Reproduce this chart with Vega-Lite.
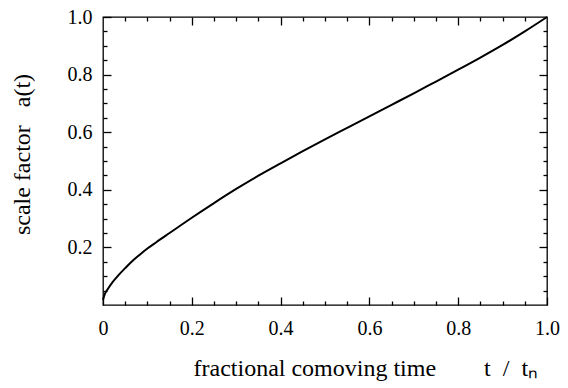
{
  "$schema": "https://vega.github.io/schema/vega-lite/v6.json",
  "width": 444,
  "height": 288,
  "autosize": "none",
  "padding": {"left": 103, "top": 17, "right": 21, "bottom": 83},
  "background": "white",
  "config": {
    "view": {"stroke": "black", "strokeWidth": 1.3},
    "font": "Liberation Serif",
    "axis": {
      "domain": false,
      "grid": false,
      "tickColor": "black",
      "tickWidth": 1.3,
      "labelColor": "black",
      "labelFont": "Liberation Serif",
      "labelFontSize": 20,
      "labelOverlap": false,
      "labelFlush": false,
      "labelBound": false,
      "titleColor": "black",
      "titleFont": "Liberation Serif",
      "titleFontSize": 24,
      "titleFontWeight": "normal"
    }
  },
  "data": {
    "values": [
      {"t": 0, "a": 0.018},
      {"t": 0.004, "a": 0.038},
      {"t": 0.012, "a": 0.058},
      {"t": 0.022, "a": 0.08},
      {"t": 0.035, "a": 0.104},
      {"t": 0.05, "a": 0.128},
      {"t": 0.065, "a": 0.151},
      {"t": 0.08, "a": 0.171},
      {"t": 0.1, "a": 0.196},
      {"t": 0.12, "a": 0.218},
      {"t": 0.15, "a": 0.25},
      {"t": 0.2, "a": 0.303},
      {"t": 0.25, "a": 0.354},
      {"t": 0.3, "a": 0.403},
      {"t": 0.35, "a": 0.449},
      {"t": 0.4, "a": 0.492},
      {"t": 0.45, "a": 0.534},
      {"t": 0.5, "a": 0.575},
      {"t": 0.55, "a": 0.615},
      {"t": 0.6, "a": 0.655},
      {"t": 0.65, "a": 0.695},
      {"t": 0.7, "a": 0.735},
      {"t": 0.75, "a": 0.776},
      {"t": 0.8, "a": 0.817},
      {"t": 0.85, "a": 0.859},
      {"t": 0.9, "a": 0.903},
      {"t": 0.95, "a": 0.95},
      {"t": 1.0, "a": 1.0}
    ]
  },
  "layer": [
    {
      "mark": {"type": "line", "color": "black", "strokeWidth": 2, "interpolate": "monotone"},
      "encoding": {
        "x": {
          "field": "t", "type": "quantitative",
          "scale": {"domain": [0, 1], "nice": false, "zero": false},
          "axis": {
            "orient": "bottom",
            "values": [0, 0.2, 0.4, 0.6, 0.8, 1.0],
            "offset": -8,
            "tickSize": 8,
            "labelExpr": "datum.value==0 ? '0' : format(datum.value,'.1f')",
            "labelFont": "Liberation Serif",
            "labelFontSize": 20,
            "labelPadding": 13,
            "labelBaseline": "top",
            "title": "fractional comoving time\u2003\u2003t\u2002/\u2002tₙ",
            "titleFont": "Liberation Serif",
            "titleAlign": "left",
            "titleBaseline": "alphabetic",
            "titleX": 90,
            "titleY": 78
          }
        },
        "y": {
          "field": "a", "type": "quantitative",
          "scale": {"domain": [0, 1], "nice": false, "zero": false},
          "axis": {
            "orient": "left",
            "values": [0.2, 0.4, 0.6, 0.8, 1.0],
            "offset": -8,
            "tickSize": 8,
            "labelExpr": "format(datum.value,'.1f')",
            "labelFont": "Liberation Serif",
            "labelFontSize": 20,
            "labelPadding": 11,
            "title": "scale factor\u2002 a(t)",
            "titleFont": "Liberation Serif",
            "titleAngle": -90,
            "titleAlign": "center",
            "titleBaseline": "alphabetic",
            "titleX": -82,
            "titleY": 137
          }
        }
      }
    },
    {
      "mark": {"type": "line", "opacity": 0},
      "encoding": {
        "x": {
          "field": "t", "type": "quantitative",
          "scale": {"domain": [0, 1], "nice": false, "zero": false},
          "axis": {"orient": "top", "values": [0.2, 0.4, 0.6, 0.8], "offset": -8, "tickSize": 8, "labels": false, "title": null}
        },
        "y": {
          "field": "a", "type": "quantitative",
          "scale": {"domain": [0, 1], "nice": false, "zero": false},
          "axis": {"orient": "right", "values": [0.2, 0.4, 0.6, 0.8], "offset": -8, "tickSize": 8, "labels": false, "title": null}
        }
      }
    },
    {
      "mark": {"type": "line", "opacity": 0},
      "encoding": {
        "x": {
          "field": "t", "type": "quantitative",
          "scale": {"domain": [0, 1], "nice": false, "zero": false},
          "axis": {"orient": "bottom", "values": [0.05,0.1,0.15,0.25,0.3,0.35,0.45,0.5,0.55,0.65,0.7,0.75,0.85,0.9,0.95], "offset": -4, "tickSize": 4, "labels": false, "title": null}
        },
        "y": {
          "field": "a", "type": "quantitative",
          "scale": {"domain": [0, 1], "nice": false, "zero": false},
          "axis": {"orient": "left", "values": [0.05,0.1,0.15,0.25,0.3,0.35,0.45,0.5,0.55,0.65,0.7,0.75,0.85,0.9,0.95], "offset": -4, "tickSize": 4, "labels": false, "title": null}
        }
      }
    },
    {
      "mark": {"type": "line", "opacity": 0},
      "encoding": {
        "x": {
          "field": "t", "type": "quantitative",
          "scale": {"domain": [0, 1], "nice": false, "zero": false},
          "axis": {"orient": "top", "values": [0.05,0.1,0.15,0.25,0.3,0.35,0.45,0.5,0.55,0.65,0.7,0.75,0.85,0.9,0.95], "offset": -4, "tickSize": 4, "labels": false, "title": null}
        },
        "y": {
          "field": "a", "type": "quantitative",
          "scale": {"domain": [0, 1], "nice": false, "zero": false},
          "axis": {"orient": "right", "values": [0.05,0.1,0.15,0.25,0.3,0.35,0.45,0.5,0.55,0.65,0.7,0.75,0.85,0.9,0.95], "offset": -4, "tickSize": 4, "labels": false, "title": null}
        }
      }
    }
  ],
  "resolve": {"axis": {"x": "independent", "y": "independent"}}
}
